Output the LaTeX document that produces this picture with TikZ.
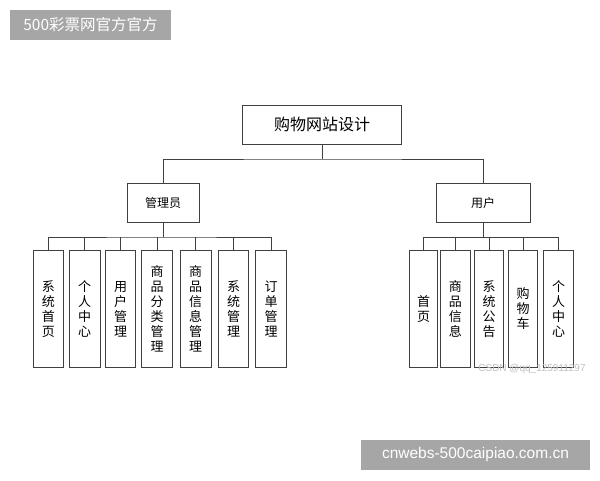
\documentclass[tikz,border=0pt]{standalone}
\usepackage{fontspec}
\setmainfont{Noto Sans CJK SC}
\newfontfamily\wmfont{Liberation Sans}
\begin{document}
\begin{tikzpicture}[x=1pt,y=-1pt,
  box/.style={draw=black!75,line width=0.9pt,fill=white,inner sep=0pt},
  vbox/.style={box,minimum width=30pt,minimum height=117pt,font=\fontsize{13}{15}\selectfont,align=center},
  conn/.style={draw=black!75,line width=0.9pt},
  wm/.style={fill=black!35,text=white,inner sep=0pt,font=\fontsize{15.5}{18}\selectfont}
]
\useasboundingbox (0,0) rectangle (600,480);
% watermarks
\node[wm,minimum width=161pt,minimum height=30pt] (wm1) at (90.5,25) {500彩票网官方官方};
\node[wm,minimum width=229pt,minimum height=29.5pt,font=\wmfont\fontsize{15.5}{18}\selectfont] (wm2) at (475.5,454.75) {cnwebs-500caipiao.com.cn};
% top
\node[box,minimum width=159pt,minimum height=39pt,font=\fontsize{16}{18}\selectfont] (root) at (322,124.5) {购物网站设计};
\node[box,minimum width=72pt,minimum height=39pt,font=\fontsize{12}{14}\selectfont] (admin) at (163,203.2) {管理员};
\node[box,minimum width=94pt,minimum height=39pt,font=\fontsize{12}{14}\selectfont] (user) at (483,203) {用户};
\coordinate (rj) at (322,159);
\draw[conn] (root.south) -- (rj);
\draw[conn] (admin.north) |- (rj) -| (user.north);
% admin children
\node[vbox,minimum width=30pt] (a1) at (48.3,309.2) {系\\统\\首\\页};
\node[vbox,minimum width=30.5pt] (a2) at (84.7,309.2) {个\\人\\中\\心};
\node[vbox,minimum width=30.5pt] (a3) at (120.5,309.2) {用\\户\\管\\理};
\node[vbox,minimum width=31pt] (a4) at (157.2,309.2) {商\\品\\分\\类\\管\\理};
\node[vbox,minimum width=30.5pt] (a5) at (195.7,309.2) {商\\品\\信\\息\\管\\理};
\node[vbox,minimum width=30.5pt] (a6) at (233.5,309.2) {系\\统\\管\\理};
\node[vbox,minimum width=31pt] (a7) at (271.2,309.2) {订\\单\\管\\理};
\coordinate (aj) at (163,237);
\draw[conn] (admin.south) -- (aj);
\draw[conn] (a1.north) |- (aj) -| (a7.north);
\foreach \n in {a2,a3,a4,a5,a6} \draw[conn] (\n.north) -- (\n.north |- aj);
% user children
\node[vbox,minimum width=28.5pt] (u1) at (423.5,309) {首\\页};
\node[vbox,minimum width=29.5pt] (u2) at (455.3,309) {商\\品\\信\\息};
\node[vbox,minimum width=28.5pt] (u3) at (489,309) {系\\统\\公\\告};
\node[vbox,minimum width=29pt] (u4) at (523.2,309) {购\\物\\车};
\node[vbox,minimum width=29.5pt] (u5) at (558.6,309) {个\\人\\中\\心};
\coordinate (uj) at (483,237.3);
\draw[conn] (user.south) -- (uj);
\draw[conn] (u1.north) |- (uj) -| (u5.north);
\foreach \n in {u2,u3,u4} \draw[conn] (\n.north) -- (\n.north |- uj);
\node[text=black!25,font=\wmfont\fontsize{10}{11}\selectfont,anchor=center] (csdn) at (532,368.5) {CSDN @qq\_125911297};
\end{tikzpicture}
\end{document}
